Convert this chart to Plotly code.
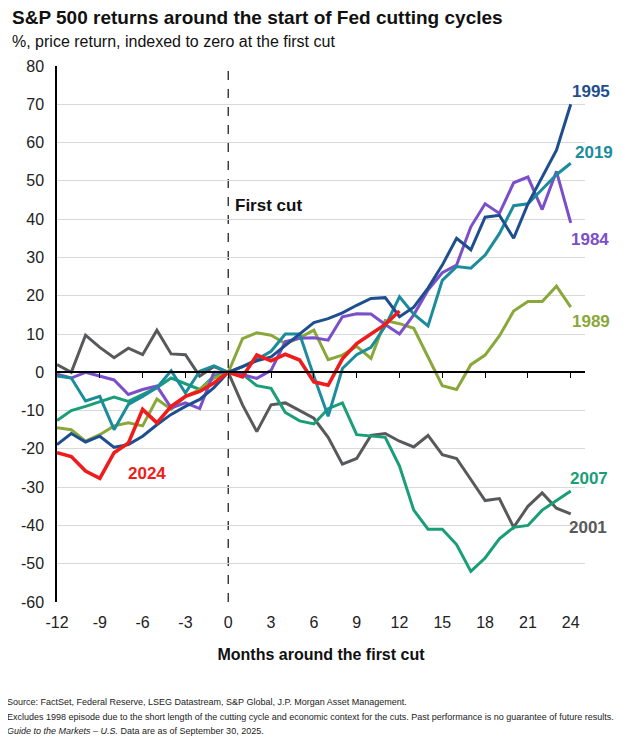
import plotly.graph_objects as go

months = list(range(-12, 25))
months_2024 = list(range(-12, 13))

s1984 = [-0.5, -1.5, 0, -1, -2, -5.8, -4.5, -3.6, -9.3, -8, -9.5, 0, 0,
         -0.6, -1.6, 0.5, 8, 8.9, 9, 8.4, 14.5, 15.3, 15.2, 12.5, 10,
         15, 21.5, 26, 28, 38, 44, 41.5, 49.5, 51, 42.5, 52.5, 39]
s1989 = [-14.5, -15, -18, -16.3, -14, -13.2, -14, -7, -9.7, -6.3, -4.5, -1.5, 0,
         8.8, 10.3, 9.7, 7.5, 9, 11, 3.3, 4.5, 6.8, 3.6, 13.5, 12.7,
         11.5, 4, -3.5, -4.5, 2, 4.5, 9.5, 16, 18.5, 18.5, 22.5, 17]
s1995 = [-18.9, -16, -18.2, -16.7, -19.6, -18.9, -16.7, -13.7, -11, -8.9, -7.1, -4, 0,
         1.5, 3, 4, 7, 10, 13, 14, 15.5, 17.5, 19.3, 19.5, 14.5,
         17, 22, 28, 35, 32, 40.5, 41, 35, 44, 51, 58, 70]
s2001 = [2, 0, 9.7, 6.5, 3.8, 6.3, 4.6, 11, 4.8, 4.6, -1, 1.5, 0,
         -8.5, -15.5, -8.5, -8, -10, -12, -17, -24, -22.5, -16.5, -16, -18,
         -19.5, -16.5, -21.5, -22.5, -28, -33.5, -33, -40.5, -35, -31.5, -35.5, -37]
s2007 = [-12.6, -10, -8.9, -7.6, -6.5, -7.6, -5.8, -4, -1.5, -3, -4.5, -1, 0,
         -0.5, -3.5, -4.2, -10.5, -12.7, -13.5, -9.5, -8, -16.3, -16.6, -17, -24.5,
         -36, -41, -41, -45, -52, -48.5, -43.5, -40.5, -40, -36, -33.5, -31]
s2019 = [-1, -1.5, -7.5, -6.3, -15, -8.4, -6.3, -4, 0.4, -5.4, 0.3, 1.7, 0,
         1.5, 3.3, 5.5, 10, 10, -1, -11.5, 1, 4.6, 6.5, 12, 19.7,
         15.2, 12.1, 24, 27.6, 27.2, 30.6, 36.2, 43.5, 44, 47.8, 51.6, 54.6]
s2024 = [-21, -22, -25.8, -27.7, -21, -18.5, -9.7, -13.2, -8.9, -6.3, -5, -2.8, 0,
         -1.2, 4.5, 3, 4.7, 3.2, -2.5, -3.4, 3.5, 7.5, 10, 12.5, 16]

# name, x, y, colour, label month, label value, label x shift (px)
series = [
    ("2001", months, s2001, "#58595b", 24, -40.6, 17),
    ("2007", months, s2007, "#1a9e77", 24, -27.7, 18.5),
    ("1989", months, s1989, "#8aa83a", 24, 13.3, 20),
    ("1984", months, s1984, "#7b4fc9", 24, 34.7, 19.5),
    ("2019", months, s2019, "#1a8c9c", 24, 57.3, 23.5),
    ("1995", months, s1995, "#1f4e8f", 24, 73.4, 20),
    ("2024", months_2024, s2024, "#ee1c1c", -5.7, -26.4, 0),
]

x_ticks = list(range(-12, 25, 3))
y_ticks = list(range(-60, 81, 10))
first_cut_month = 0


def lab(v):
    return str(v)  # plain hyphen minus, as in the reference


fig = go.Figure()
for name, xs, ys, color, lx, ly, sh in series:
    fig.add_trace(go.Scatter(x=xs, y=ys, mode="lines", name=name,
                             line=dict(color=color, width=3.6 if name == "2024" else 3),
                             showlegend=False, hoverinfo="skip"))
    fig.add_annotation(x=lx, y=ly, xref="x", yref="y", xshift=sh,
                       text="<b>%s</b>" % name, showarrow=False,
                       font=dict(color=color, size=17))

# invisible trace carrying the zero-line axis with its tick marks
fig.add_trace(go.Scatter(x=[-12, 25], y=[0, 0], xaxis="x2", mode="lines",
                         line=dict(width=0), showlegend=False, hoverinfo="skip"))

fig.add_shape(type="line", x0=first_cut_month, x1=first_cut_month, y0=0, y1=1,
              xref="x", yref="paper", line=dict(color="#222222", width=1.3, dash="dash"),
              layer="below")
fig.add_annotation(x=first_cut_month, y=43.6, xref="x", yref="y", xshift=5,
                   text="<b>First cut</b>", showarrow=False, xanchor="left",
                   font=dict(size=17, color="#111111"))

fig.update_layout(
    width=615, height=731,
    margin=dict(l=49, r=38, t=58, b=137),
    paper_bgcolor="white", plot_bgcolor="white",
    font=dict(family="Liberation Sans", color="#111111"),
    xaxis=dict(range=[-12, 25], tickvals=x_ticks, ticktext=[lab(v) for v in x_ticks],
               showgrid=False, zeroline=False, showline=False, ticks="",
               ticklabelstandoff=9, tickfont=dict(size=16, color="#222222"),
               title=dict(text="<b>Months around the first cut</b>",
                          font=dict(size=16, color="#111111"), standoff=18)),
    xaxis2=dict(range=[-12, 25], overlaying="x", anchor="free", position=60/140,
                tickvals=x_ticks[1:], showticklabels=False, showgrid=False,
                zeroline=False, showline=True, linecolor="black", linewidth=1.5,
                ticks="outside", ticklen=5, tickcolor="black", tickwidth=1.3),
    yaxis=dict(range=[-60, 80], tickvals=y_ticks, ticktext=[lab(v) for v in y_ticks],
               showgrid=True, gridcolor="#d9d9d9", gridwidth=1, zeroline=False,
               showline=True, linecolor="black", linewidth=1.5, ticks="",
               ticklabelstandoff=8, tickfont=dict(size=16, color="#222222")),
)

fig.add_annotation(x=0, y=1, xref="paper", yref="paper", xanchor="left", yanchor="middle",
                   xshift=-47, yshift=49, showarrow=False,
                   text="<b>S&P 500 returns around the start of Fed cutting cycles</b>",
                   font=dict(size=19, color="#111111"))
fig.add_annotation(x=0, y=1, xref="paper", yref="paper", xanchor="left", yanchor="middle",
                   xshift=-47, yshift=25, showarrow=False,
                   text="%, price return, indexed to zero at the first cut",
                   font=dict(size=16, color="#111111"))

foot_lines = [
    "Source: FactSet, Federal Reserve, LSEG Datastream, S&P Global, J.P. Morgan Asset Management.",
    "Excludes 1998 episode due to the short length of the cutting cycle and economic context "
    "for the cuts. Past performance is no guarantee of future results.",
    "<i>Guide to the Markets – U.S.</i> Data are as of September 30, 2025.",
]
for i, line in enumerate(foot_lines):
    fig.add_annotation(x=0, y=0, xref="paper", yref="paper", xanchor="left",
                       yanchor="middle", xshift=-52, yshift=-100 - 14.5 * i,
                       showarrow=False, align="left", text=line,
                       font=dict(size=9, color="#222222"))

fig.write_html("out.html")
